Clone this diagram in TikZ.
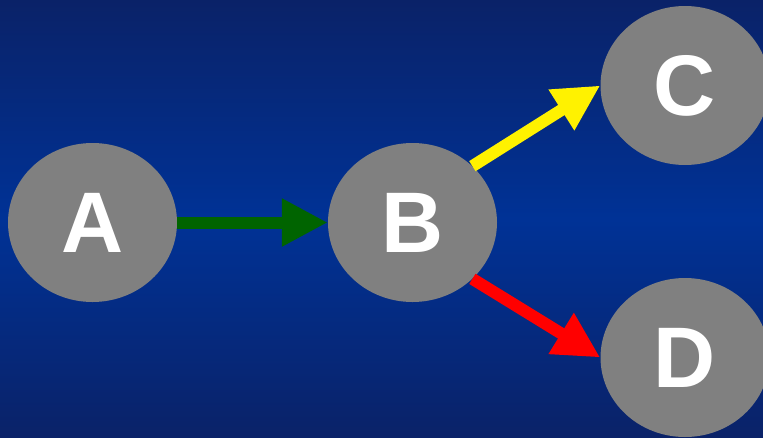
\documentclass[tikz,border=0pt]{standalone}
\usepackage{fontspec}
\setmainfont{Liberation Sans}
\usetikzlibrary{arrows.meta}
\definecolor{bgedge}{RGB}{10,34,104}
\definecolor{bgmid}{RGB}{0,50,150}
\definecolor{nodegray}{RGB}{128,128,128}
\definecolor{edgegreen}{RGB}{0,100,0}
\tikzset{
  state/.style={ellipse, fill=nodegray, minimum width=169pt, minimum height=159pt,
    inner sep=0pt, text=white, font=\fontsize{86}{86}\selectfont\bfseries},
  link/.style={line width=12pt, -{Triangle[length=46pt,width=45pt]}}
}
\usetikzlibrary{shapes.geometric}
\begin{document}
\begin{tikzpicture}[x=1pt,y=-1pt]
  \useasboundingbox (0,0) rectangle (763,437);
  % background: dark at the edges, brighter band across the middle
  \shade[top color=bgedge, bottom color=bgmid] (0,0) rectangle (763,219);
  \shade[top color=bgmid, bottom color=bgedge] (0,219) rectangle (763,437);

  \begin{scope}
    \clip (0,0) rectangle (763,437);
    \node[state] (a) at (92.5,222.5) {A};
    \node[state] (b) at (412.5,222.5) {B};
    \node[state] (c) at (685,85.5) {C};
    \node[state] (d) at (685,357.5) {D};

    \draw[link, edgegreen] (a.east) -- (b.west);
    \draw[link, yellow] (b.north east) -- (c.west);
    \draw[link, red] (b.south east) -- (d.west);
  \end{scope}
\end{tikzpicture}
\end{document}
